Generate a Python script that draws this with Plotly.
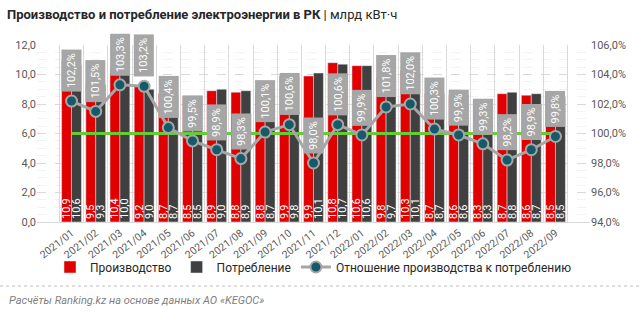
import plotly.graph_objects as go

months = ["2021/01", "2021/02", "2021/03", "2021/04", "2021/05", "2021/06", "2021/07",
          "2021/08", "2021/09", "2021/10", "2021/11", "2021/12", "2022/01", "2022/02",
          "2022/03", "2022/04", "2022/05", "2022/06", "2022/07", "2022/08", "2022/09"]
production = [10.9, 9.5, 10.4, 9.2, 8.7, 8.5, 8.9, 8.8, 8.8, 9.9, 9.9, 10.8, 10.6, 9.8,
              10.3, 8.7, 8.6, 8.3, 8.7, 8.6, 8.5]
consumption = [10.6, 9.3, 10.0, 9.0, 8.7, 8.5, 9.0, 8.9, 8.7, 9.8, 10.1, 10.7, 10.6, 9.7,
               10.1, 8.7, 8.6, 8.3, 8.8, 8.7, 8.5]
ratio = [102.2, 101.5, 103.3, 103.2, 100.4, 99.5, 98.9, 98.3, 100.1, 100.6, 98.0, 100.6,
         99.9, 101.8, 102.0, 100.3, 99.9, 99.3, 98.2, 98.9, 99.8]
baseline = [100.0] * len(months)

def fmt(v, suffix=""):
    return f"{v:.1f}".replace(".", ",") + suffix

RED = "#e00000"
DARK = "#404040"
GRAY = "#a6a6a6"
TEAL = "#135a6a"
GREEN = "#66cc33"
FONT = "Roboto"

fig = go.Figure()
fig.add_trace(go.Bar(
    x=months, y=production, name="Производство", marker_color=RED,
    text=[fmt(v) for v in production], textposition="inside", insidetextanchor="start",
    textangle=-90, constraintext="none", textfont=dict(color="white", size=11, family=FONT),
))
fig.add_trace(go.Bar(
    x=months, y=consumption, name="Потребление", marker_color=DARK,
    text=[fmt(v) for v in consumption], textposition="inside", insidetextanchor="start",
    textangle=-90, constraintext="none", textfont=dict(color="white", size=11, family=FONT),
))
fig.add_trace(go.Scatter(
    x=months, y=baseline, yaxis="y2", mode="lines", showlegend=False,
    line=dict(color=GREEN, width=3), hoverinfo="skip",
))
fig.add_trace(go.Scatter(
    x=months, y=ratio, yaxis="y2", mode="lines+markers",
    name="Отношение производства к потреблению",
    line=dict(color=GRAY, width=3),
    marker=dict(color=TEAL, size=11, line=dict(color=GRAY, width=2)),
))

for m, r in zip(months, ratio):
    fig.add_annotation(
        x=m, y=r, yref="y2", text=fmt(r, "%"), textangle=-90, showarrow=False,
        yanchor="bottom", yshift=9, bgcolor=GRAY, borderpad=3,
        font=dict(color="white", size=11, family=FONT),
    )

L, R, T, B = 37, 52, 45, 109
H = 331 - T - B
W = 642 - L - R

fig.add_shape(type="line", xref="paper", yref="paper",
              x0=-L / W, x1=(642 - L) / W, y0=(222 - 286) / H, y1=(222 - 286) / H,
              line=dict(color="#bfbfbf", width=1, dash="dot"))
fig.add_annotation(xref="paper", yref="paper", x=(7 - L) / W, y=(222 - 300) / H,
                   xanchor="left", yanchor="middle", showarrow=False,
                   text="<i>Расчёты Ranking.kz на основе данных АО «KEGOC»</i>",
                   font=dict(color="#808080", size=11, family=FONT))

fig.update_layout(
    width=642, height=331,
    margin=dict(l=L, r=R, t=T, b=B),
    paper_bgcolor="white", plot_bgcolor="white",
    separators=", ",
    barmode="group", bargap=0.18, bargroupgap=0.0,
    font=dict(family=FONT, color="#595959", size=11),
    title=dict(
        text="<b>Производство и потребление электроэнергии в РК</b> | млрд кВт·ч",
        x=7 / 642, xanchor="left", y=1 - 14 / 331, yanchor="middle",
        font=dict(size=13, color="#262626", family=FONT),
    ),
    xaxis=dict(
        type="category", tickangle=-38, tickfont=dict(size=10.5, color="#595959"),
        showgrid=True, gridcolor="#d9d9d9", gridwidth=1,
        ticks="outside", ticklen=3, tickcolor="rgba(0,0,0,0)",
        tickson="boundaries",
        showline=True, linecolor="#d9d9d9",
    ),
    yaxis=dict(
        range=[0, 12], dtick=2, tickformat=".1f",
        showgrid=True, gridcolor="#d9d9d9", griddash="dash", zeroline=False,
        minor=dict(dtick=0.5, showgrid=True, gridcolor="#f2f2f2"),
        tickfont=dict(size=11, color="#595959"),
    ),
    yaxis2=dict(
        range=[94, 106], dtick=2, tickformat=".1f", ticksuffix="%",
        overlaying="y", side="right", showgrid=False, zeroline=False,
        tickfont=dict(size=11, color="#595959"),
    ),
    legend=dict(
        orientation="h", x=0.5, xanchor="center", y=(222 - 267) / H, yanchor="middle",
        font=dict(size=12, color="#262626"), traceorder="normal",
        bgcolor="rgba(0,0,0,0)",
    ),
)

fig.write_html("out.html")
